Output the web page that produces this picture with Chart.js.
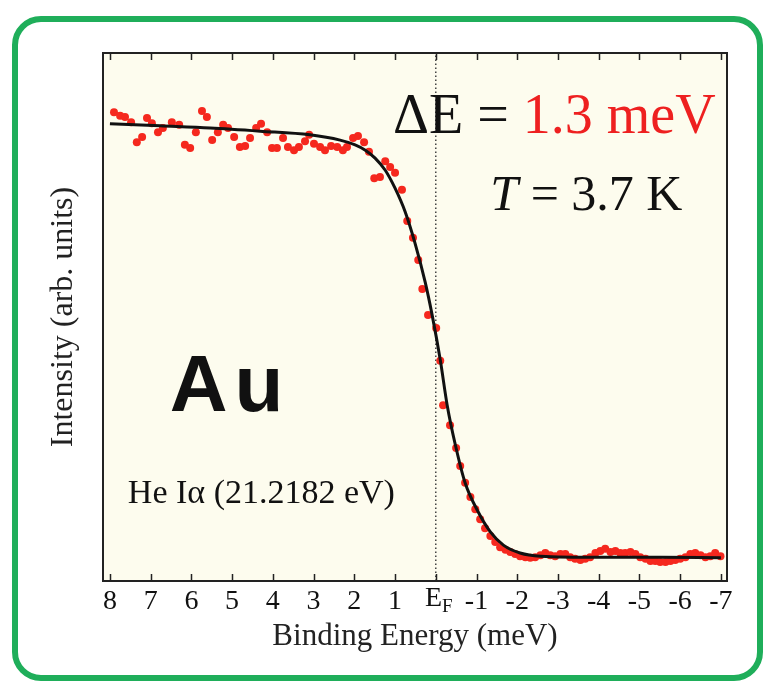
<!DOCTYPE html>
<html lang="en">
<head>
<meta charset="UTF-8">
<title>Au Fermi edge</title>
<script src="https://cdn.jsdelivr.net/npm/chart.js@4.4.1/dist/chart.umd.min.js"></script>
<style>
  html, body { margin: 0; padding: 0; background: #fff; }
  #wrap { width: 771px; height: 683px; }
</style>
</head>
<body>
<div id="wrap"><canvas id="edge" width="771" height="683"></canvas></div>
<script>
// measured points (binding energy in meV, intensity in arb. units)
const energy = [7.90, 7.75, 7.63, 7.48, 7.34, 7.21, 7.09, 6.97, 6.82, 6.70, 6.48, 6.30, 6.16, 6.03, 5.89, 5.74, 5.62, 5.49, 5.35, 5.22,
  5.10, 4.95, 4.81, 4.68, 4.56, 4.41, 4.29, 4.14, 4.02, 3.90, 3.75, 3.63, 3.48, 3.36, 3.21, 3.11, 2.99, 2.84, 2.72, 2.57,
  2.42, 2.28, 2.18, 2.03, 1.91, 1.76, 1.64, 1.51, 1.37, 1.24, 1.12, 1.00, 0.83, 0.70, 0.56, 0.43, 0.33, 0.19, -0.01, -0.11,
  -0.18, -0.35, -0.50, -0.60, -0.72, -0.85, -0.97, -1.09, -1.21, -1.34, -1.46, -1.58, -1.71, -1.83, -1.95, -2.07, -2.20, -2.32, -2.44, -2.57,
  -2.69, -2.81, -2.93, -3.06, -3.18, -3.30, -3.42, -3.55, -3.67, -3.79, -3.92, -4.04, -4.16, -4.29, -4.41, -4.53, -4.65, -4.78, -4.90, -5.02,
  -5.15, -5.27, -5.39, -5.51, -5.64, -5.76, -5.88, -6.00, -6.13, -6.25, -6.37, -6.50, -6.62, -6.74, -6.86, -6.99];
const intensity = [88.8, 88.1, 87.9, 86.9, 83.1, 84.1, 87.7, 86.7, 85.0, 85.8, 86.9, 86.4, 82.6, 82.0, 85.0, 89.0, 87.9, 83.5, 85.0, 86.4,
  85.8, 84.1, 82.2, 82.4, 83.9, 85.8, 86.6, 85.0, 82.0, 82.0, 83.9, 82.2, 81.6, 82.2, 83.3, 84.5, 82.8, 82.2, 81.6, 82.4,
  82.2, 81.6, 82.2, 83.9, 84.3, 83.1, 81.3, 76.3, 76.5, 79.5, 78.4, 77.3, 74.1, 68.2, 65.0, 60.8, 55.3, 50.4, 47.9, 41.7,
  33.3, 29.5, 25.2, 21.8, 18.6, 15.9, 13.6, 11.7, 10.0, 8.5, 7.4, 6.4, 5.9, 5.5, 5.1, 4.7, 4.5, 4.4, 4.5, 4.9,
  5.3, 4.9, 4.7, 5.1, 5.1, 4.5, 4.2, 4.0, 4.2, 4.5, 5.3, 5.7, 6.1, 5.5, 5.7, 5.3, 5.3, 5.5, 5.1, 4.5,
  4.2, 3.8, 3.8, 3.6, 3.6, 3.8, 4.0, 4.2, 4.5, 5.1, 5.3, 4.9, 4.5, 4.7, 5.3, 4.7];

// fitted Fermi edge
const fitEnergy = [8.00, 6.77, 5.54, 4.31, 3.09, 2.35, 1.98, 1.73, 1.49, 1.24, 1.00, 0.75, 0.51, 0.26, 0.09,
  -0.11, -0.28, -0.48, -0.72, -1.02, -1.34, -1.66, -2.07, -2.57, -4.04, -5.51, -7.00];
const fitIntensity = [86.6, 86.2, 85.8, 85.2, 84.5, 83.5, 82.6, 81.6, 80.1, 77.8, 74.4, 69.9, 64.0, 56.6, 50.4,
  41.9, 33.3, 25.8, 18.6, 13.4, 9.3, 6.8, 5.3, 4.7, 4.5, 4.5, 4.4];

const tickValues = [8, 7, 6, 5, 4, 3, 2, 1, 0, -1, -2, -3, -4, -5, -6, -7];
const tickLabels = ['8', '7', '6', '5', '4', '3', '2', '1', 'E_F', '-1', '-2', '-3', '-4', '-5', '-6', '-7'];

const SERIF = "'Liberation Serif', 'Times New Roman', serif";
const SANS = "'Liberation Sans', Arial, sans-serif";

// text placed inside the plot, anchored in data units (energy, intensity)
const notes = [
  { e: 1.05, i: 84.9, font: '56px ' + SERIF, parts: [['\u0394E = ', '#111'], ['1.3 meV', '#ee2020']] },
  { e: -1.34, i: 70.3, font: '50px ' + SERIF, parts: [['T', '#111', 'italic '], [' = 3.7 K', '#111']] },
  { e: 6.53, i: 32.2, font: 'bold 80px ' + SANS, spacing: '7px', parts: [['Au', '#111']] },
  { e: 7.56, i: 14.8, font: '34px ' + SERIF, parts: [['He I\u03b1 (21.2182 eV)', '#111']] }
];

const framePlugin = {
  id: 'frame',
  beforeDraw(chart) {
    const { ctx, chartArea: a, width, height } = chart;
    ctx.save();
    ctx.fillStyle = '#fff';
    ctx.fillRect(0, 0, width, height);
    // green rounded border
    ctx.strokeStyle = '#1fae5a';
    ctx.lineWidth = 6;
    ctx.beginPath();
    ctx.roundRect(15, 19, 745, 659, 26);
    ctx.stroke();
    // cream plot area
    ctx.fillStyle = '#fdfcee';
    ctx.fillRect(a.left, a.top, a.right - a.left, a.bottom - a.top);
    ctx.restore();
  },
  afterDraw(chart) {
    const { ctx, chartArea: a } = chart;
    const x = chart.scales.x, y = chart.scales.y;
    ctx.save();
    ctx.strokeStyle = '#222';
    ctx.lineWidth = 2;
    ctx.strokeRect(a.left, a.top, a.right - a.left, a.bottom - a.top);
    // inward ticks top and bottom
    ctx.lineWidth = 1.5;
    tickValues.forEach(v => {
      const px = Math.round(x.getPixelForValue(v)) + 0.5;
      ctx.beginPath();
      ctx.moveTo(px, a.bottom); ctx.lineTo(px, a.bottom - 7);
      ctx.moveTo(px, a.top); ctx.lineTo(px, a.top + 7);
      ctx.stroke();
    });
    // E_F tick label with subscript
    const x0 = x.getPixelForValue(0);
    const ty = x.top + 4;
    ctx.fillStyle = '#111';
    ctx.textBaseline = 'top';
    ctx.font = '28px ' + SERIF;
    const wE = ctx.measureText('E').width;
    ctx.font = '19px ' + SERIF;
    const wF = ctx.measureText('F').width;
    const start = x0 - (wE + wF) / 2 + 3;
    ctx.font = '28px ' + SERIF;
    ctx.textAlign = 'left';
    ctx.fillText('E', start, ty);
    ctx.font = '19px ' + SERIF;
    ctx.fillText('F', start + wE, ty + 13);
    // annotations
    ctx.textBaseline = 'alphabetic';
    notes.forEach(n => {
      let px = x.getPixelForValue(n.e);
      const py = y.getPixelForValue(n.i);
      ctx.letterSpacing = n.spacing || '0px';
      n.parts.forEach(([t, c, style]) => {
        ctx.font = (style || '') + n.font;
        ctx.fillStyle = c;
        ctx.fillText(t, px, py);
        px += ctx.measureText(t).width;
      });
    });
    ctx.letterSpacing = '0px';
    ctx.restore();
  }
};

new Chart(document.getElementById('edge'), {
  type: 'scatter',
  data: {
    datasets: [
      {
        type: 'line',
        label: 'fit',
        data: fitEnergy.map((e, k) => ({ x: e, y: fitIntensity[k] })),
        borderColor: '#111',
        borderWidth: 3,
        pointRadius: 0,
        fill: false,
        cubicInterpolationMode: 'monotone',
        order: 0
      },
      {
        label: 'data',
        data: energy.map((e, k) => ({ x: e, y: intensity[k] })),
        backgroundColor: '#f5281e',
        borderWidth: 0,
        pointRadius: 4,
        order: 1
      },
      {
        type: 'line',
        label: 'EF',
        data: [{ x: 0, y: 0 }, { x: 0, y: 100 }],
        borderColor: '#444',
        borderWidth: 1.5,
        borderDash: [1.5, 2.5],
        pointRadius: 0,
        fill: false,
        order: 2
      }
    ]
  },
  options: {
    responsive: false,
    animation: false,
    layout: { padding: { top: 53, right: 44, left: 0, bottom: 0 } },
    plugins: { legend: { display: false }, tooltip: { enabled: false } },
    scales: {
      x: {
        type: 'linear',
        reverse: true,
        min: -7.15,
        max: 8.17,
        afterBuildTicks: s => { s.ticks = tickValues.map(v => ({ value: v })); },
        afterFit: s => { s.height = 102; },
        grid: { display: false, drawTicks: false },
        border: { display: false },
        ticks: {
          autoSkip: false,
          maxRotation: 0,
          padding: 4,
          color: '#111',
          font: { family: SERIF, size: 28 },
          callback: v => { const l = tickLabels[tickValues.indexOf(v)]; return l === 'E_F' ? '' : l; }
        },
        title: {
          display: true,
          text: 'Binding Energy (meV)',
          color: '#222',
          font: { family: SERIF, size: 31 },
          padding: { top: 0, bottom: 28 }
        }
      },
      y: {
        min: 0,
        max: 100,
        afterFit: s => { s.width = 103; },
        grid: { display: false, drawTicks: false },
        border: { display: false },
        ticks: { display: false },
        title: {
          display: true,
          text: 'Intensity (arb. units)',
          color: '#222',
          font: { family: SERIF, size: 32 },
          padding: { top: 44, bottom: 0 }
        }
      }
    }
  },
  plugins: [framePlugin]
});
</script>
</body>
</html>
